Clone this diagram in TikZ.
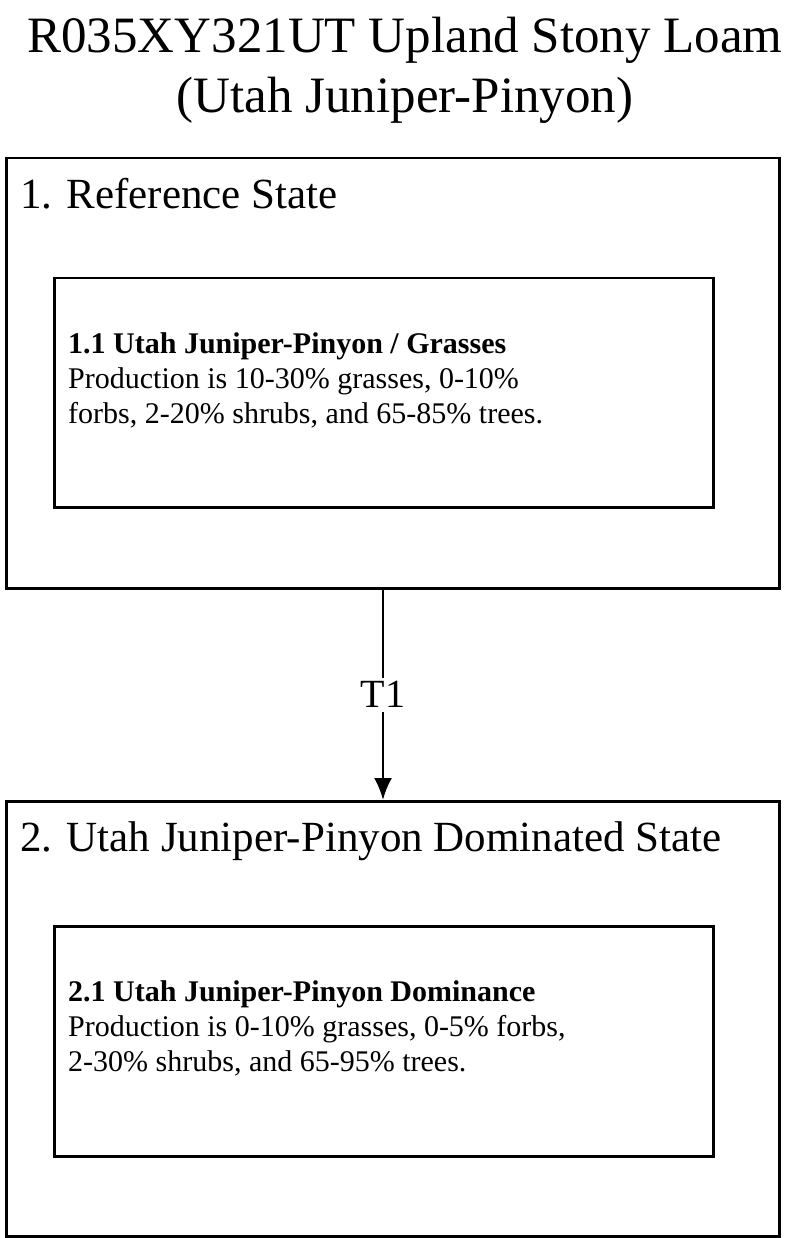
\documentclass[tikz,border=0pt]{standalone}
\usepackage{fontspec}
\setmainfont{Liberation Serif}
\usetikzlibrary{positioning, arrows.meta}
\tikzset{
  statebox/.style={draw, line width=2.5pt, anchor=north west, inner sep=0pt},
  phasetext/.style={anchor=north west, align=left, inner sep=0pt, font=\fontsize{30}{35}\selectfont},
  statelabel/.style={anchor=north west, inner sep=0pt, font=\fontsize{43}{48}\selectfont},
}
\begin{document}
\begin{tikzpicture}[x=1pt, y=-1pt]
  \useasboundingbox (0,0) rectangle (800,1238);
  \node[font=\fontsize{51}{60}\selectfont, align=center] (title) at (405,70) {R035XY321UT Upland Stony Loam\\(Utah Juniper-Pinyon)};

  % state 1
  \node[statebox, minimum width=773pt, minimum height=430pt] (s1) at (5,157) {};
  \node[statelabel] (s1lab) at (20,178) {1. Reference State};
  \node[statebox, minimum width=659pt, minimum height=229pt] (p11) at (53,277) {};
  \node[phasetext] (p11txt) at (68,332) {\textbf{1.1 Utah Juniper-Pinyon / Grasses}\\Production is 10-30\% grasses, 0-10\%\\forbs, 2-20\% shrubs, and 65-85\% trees.};

  % state 2
  \node[statebox, minimum width=773pt, minimum height=435pt] (s2) at (5,800) {};
  \node[statelabel] (s2lab) at (20,821) {2. Utah Juniper-Pinyon Dominated State};
  \node[statebox, minimum width=659pt, minimum height=230pt] (p21) at (53,925) {};
  \node[phasetext] (p21txt) at (68,980) {\textbf{2.1 Utah Juniper-Pinyon Dominance}\\Production is 0-10\% grasses, 0-5\% forbs,\\2-30\% shrubs, and 65-95\% trees.};

  % transition
  \draw[line width=2.5pt, -{Latex[length=22pt,width=18pt]}] (s1.south -| 383,0) -- (s2.north -| 383,0)
    node[pos=0.5, fill=white, font=\fontsize{40}{44}\selectfont, inner sep=4pt] (t1) {T1};
\end{tikzpicture}
\end{document}
